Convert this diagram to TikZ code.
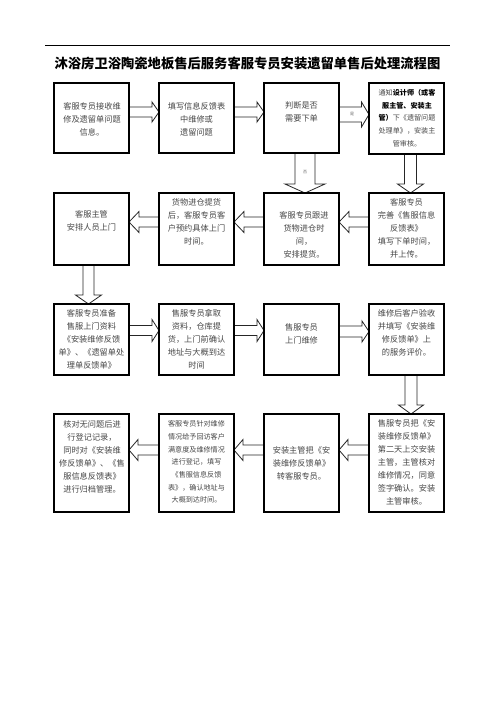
\documentclass[tikz,border=0pt]{standalone}
\usepackage{fontspec}
\setmainfont{Noto Sans CJK SC}
\usetikzlibrary{calc,backgrounds}
\tikzset{
  box/.style={draw=black,line width=1.1pt,minimum width=75pt,inner sep=0pt,outer sep=0pt},
  bodytxt/.style={text=black!72,align=center,inner sep=0pt,font=\fontsize{8.2}{13}\selectfont},
  smalltxt/.style={text=black!72,align=center,inner sep=0pt,font=\fontsize{7.1}{12.7}\selectfont},
  tinytxt/.style={text=black!60,inner sep=0pt,font=\fontsize{4}{4}\selectfont},
  blockarrow/.style={draw=black!85,line width=0.8pt,fill=white,line join=miter},
}
\newcommand{\harr}[6]{%
  \draw[blockarrow] let \p1=(#1), \p2=(#2) in
    (\x1,{#3-#4}) -- ({\x2-(#6)},{#3-#4}) -- ({\x2-(#6)},{#3-#5}) -- (\x2,{#3})
    -- ({\x2-(#6)},{#3+#5}) -- ({\x2-(#6)},{#3+#4}) -- (\x1,{#3+#4});}
\newcommand{\varr}[6]{%
  \draw[blockarrow] let \p1=(#1), \p2=(#2) in
    ({#3-#4},\y1) -- ({#3-#4},{\y2+(#6)}) -- ({#3-#5},{\y2+(#6)}) -- ({#3},\y2)
    -- ({#3+#5},{\y2+(#6)}) -- ({#3+#4},{\y2+(#6)}) -- ({#3+#4},\y1);}
\begin{document}
\begin{tikzpicture}[x=1pt,y=-1pt]
\useasboundingbox (0,0) rectangle (496,702);
% title
\coordinate (tl) at (45,45);
\coordinate (tr) at (450,45);
\draw[line width=0.9pt] (tl) -- (tr);
\node[inner sep=0pt,font=\fontsize{13.3}{15}\selectfont\bfseries] (title) at (247.5,63) {沐浴房卫浴陶瓷地板售后服务客服专员安装遗留单售后处理流程图};
% row 1
\node[box,minimum height=70pt] (r1a) at (91.5,118) {};
\node[box,minimum height=70pt] (r1b) at (196.5,118) {};
\node[box,minimum height=70pt] (r1c) at (301.5,118) {};
\node[box,minimum height=71pt] (r1d) at (406.5,118.5) {};
\node[bodytxt] (t1a) at (92,119) {客服专员接收维\\修及遗留单问题\\信息。};
\node[bodytxt] (t1b) at (196.5,119) {填写信息反馈表\\中维修或\\遗留问题};
\node[bodytxt] (t1c) at (301.5,112) {判断是否\\需要下单};
\node[smalltxt] (t1d) at (407,118) {通知\textcolor{black}{\bfseries 设计师（或客}\\\textcolor{black}{\bfseries 服主管、安装主}\\\textcolor{black}{\bfseries 管）}下《遗留问题\\处理单》，安装主\\管审核。};
% row 2
\node[box,minimum height=72pt] (r2a) at (91.5,229) {};
\node[box,minimum height=72pt] (r2b) at (196.5,229) {};
\node[box,minimum height=72pt] (r2c) at (301.5,229) {};
\node[box,minimum height=72pt] (r2d) at (406.5,229) {};
\node[bodytxt] (t2a) at (91.5,221) {客服主管\\安排人员上门};
\node[bodytxt] (t2b) at (196.5,221.5) {货物进仓提货\\后，客服专员客\\户预约具体上门\\时间。};
\node[bodytxt] (t2c) at (304,234.5) {客服专员跟进\\货物进仓时\\间，\\安排提货。};
\node[bodytxt] (t2d) at (406.5,228.5) {客服专员\\完善《售服信息\\反馈表》\\填写下单时间，\\并上传。};
% row 3
\node[box,minimum height=71pt] (r3a) at (91.5,339.5) {};
\node[box,minimum height=71pt] (r3b) at (196.5,339.5) {};
\node[box,minimum height=71pt] (r3c) at (301.5,339.5) {};
\node[box,minimum height=71pt] (r3d) at (406.5,339.5) {};
\node[bodytxt] (t3a) at (91.5,339) {客服专员准备\\售服上门资料\\《安装维修反馈\\单》、《遗留单处\\理单反馈单》};
\node[bodytxt] (t3b) at (196.5,339) {售服专员拿取\\资料，仓库提\\货，上门前确认\\地址与大概到达\\时间};
\node[bodytxt] (t3c) at (301.5,333.5) {售服专员\\上门维修};
\node[bodytxt] (t3d) at (406.5,333) {维修后客户验收\\并填写《安装维\\修反馈单》上\\的服务评价。};
% row 4
\node[box,minimum height=98pt] (r4a) at (91.5,463) {};
\node[box,minimum height=98pt] (r4b) at (196.5,463) {};
\node[box,minimum height=98pt] (r4c) at (301.5,463) {};
\node[box,minimum height=98pt] (r4d) at (406.5,463) {};
\node[bodytxt] (t4a) at (92,456.5) {核对无问题后进\\行登记记录，\\同时对《安装维\\修反馈单》、《售\\服信息反馈表》\\进行归档管理。};
\node[smalltxt] (t4b) at (196.5,462) {客服专员针对维修\\情况给予回访客户\\满意度及维修情况\\进行登记，填写\\《售服信息反馈\\表》，确认地址与\\大概到达时间。};
\node[bodytxt] (t4c) at (301.5,463) {安装主管把《安\\装维修反馈单》\\转客服专员。};
\node[bodytxt] (t4d) at (406.5,462.5) {售服专员把《安\\装维修反馈单》\\第二天上交安装\\主管，主管核对\\维修情况，同意\\签字确认。安装\\主管审核。};
% arrows
\begin{pgfonlayer}{background}
\fill[white] (0,0) rectangle (496,702);
\harr{r1a.east}{r1b.west}{112}{5}{10}{7}
\harr{r1b.east}{r1c.west}{112}{5}{10}{7}
\harr{r1c.east}{r1d.west}{114.5}{7.5}{12.5}{7.5}
\varr{r1c.south}{r2c.north}{305}{10}{20}{9}
\varr{r1d.south}{r2d.north}{410.5}{6}{13}{9}
\harr{r2d.west}{r2c.east}{222}{5}{10.5}{-10}
\harr{r2c.west}{r2b.east}{222}{5}{10.5}{-10}
\harr{r2b.west}{r2a.east}{222}{5}{10.5}{-10}
\varr{r2a.south}{r3a.north}{88.5}{5.5}{13}{9}
\harr{r3a.east}{r3b.west}{330.5}{5}{11}{7}
\harr{r3b.east}{r3c.west}{330.5}{5}{11}{7}
\harr{r3c.east}{r3d.west}{331.5}{5.5}{10.5}{7}
\varr{r3d.south}{r4d.north}{411}{6}{12.5}{9}
\harr{r4d.west}{r4c.east}{450}{5}{10.5}{-9}
\harr{r4c.west}{r4b.east}{450}{5}{10.5}{-9}
\harr{r4b.west}{r4a.east}{450}{5}{10.5}{-9}
\end{pgfonlayer}
\node[tinytxt] (yes) at (352,114.5) {是};
\node[tinytxt] (no) at (305,172) {否};
\end{tikzpicture}
\end{document}
